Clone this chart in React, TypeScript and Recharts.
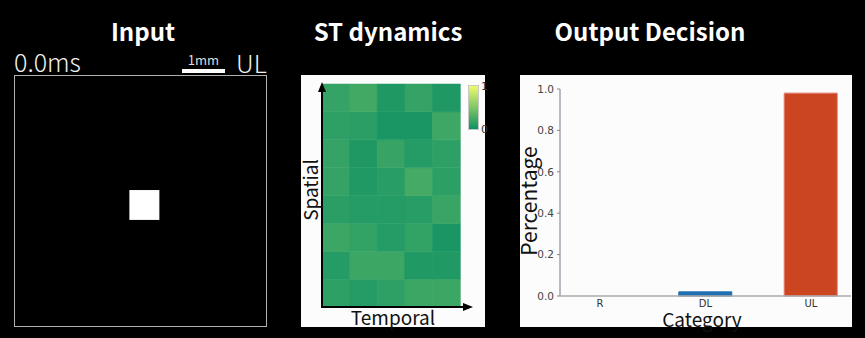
import React from 'react';
import { Bar, BarChart, Cell, XAxis, YAxis } from 'recharts';

const CATEGORIES = ['R', 'DL', 'UL'];
const PERCENTAGES = [0, 0.02, 0.98];
const BAR_COLORS = ['#2ca02c', '#1f6fb2', '#ca4520'];
const Y_TICKS = [0, 0.2, 0.4, 0.6, 0.8, 1.0];

// spatial rows, top to bottom; temporal columns left to right
const ST_ROWS = [
  [0.17, 0.23, 0.07, 0.17, 0.07],
  [0.14, 0.12, 0.05, 0.05, 0.21],
  [0.17, 0.07, 0.18, 0.1, 0.14],
  [0.17, 0.08, 0.11, 0.24, 0.13],
  [0.12, 0.1, 0.1, 0.11, 0.19],
  [0.2, 0.16, 0.1, 0.16, 0.05],
  [0.1, 0.2, 0.2, 0.08, 0.08],
  [0.14, 0.1, 0.14, 0.2, 0.2],
];
const TEMPORAL_STEPS = ['t1', 't2', 't3', 't4', 't5'];

// input frame: one lit pixel (normalised coords, y from bottom)
const INPUT_PIXEL = [{ x: 0.5175, below: 0.422, lit: 0.12 }];

const TITLE_FONT = '"Noto Sans CJK SC", "Noto Sans", sans-serif';
const TICK_FONT = '"DejaVu Sans", sans-serif';

// green -> yellow colormap
const CMAP_LO = [15, 145, 100];
const CMAP_HI = [238, 250, 105];
function cmap(v: number) {
  const c = CMAP_LO.map((lo, i) => Math.round(lo + (CMAP_HI[i] - lo) * v));
  return `rgb(${c[0]}, ${c[1]}, ${c[2]})`;
}

const nRows = ST_ROWS.length;
// stack index k = 0 is the bottom row
const heatData = TEMPORAL_STEPS.map((t) => {
  const row: Record<string, number | string> = { t };
  for (let k = 0; k < nRows; k++) row[`s${k}`] = 1;
  return row;
});

const barData = CATEGORIES.map((name, i) => ({
  x: i,
  name,
  value: PERCENTAGES[i],
}));

function Title({ text, cx }: { text: string; cx: number }) {
  return (
    <div
      style={{
        position: 'absolute',
        left: cx - 150,
        width: 300,
        top: 14,
        textAlign: 'center',
        fontFamily: TITLE_FONT,
        fontWeight: 700,
        fontSize: 24,
        lineHeight: '34px',
        color: '#fff',
      }}
    >
      {text}
    </div>
  );
}

/* ───────────── Input ───────────── */
function InputPanel() {
  return (
    <>
      <div
        style={{
          position: 'absolute',
          left: 14,
          top: 45,
          fontFamily: TITLE_FONT,
          fontSize: 25,
          lineHeight: '32px',
          color: '#f2f2f2',
          fontWeight: 300,
        }}
      >
        0.0ms
      </div>
      <div
        style={{
          position: 'absolute',
          left: 182,
          top: 52,
          width: 43,
          textAlign: 'center',
          fontFamily: TITLE_FONT,
          fontSize: 13,
          lineHeight: '16px',
          color: '#ddd',
        }}
      >
        1mm
      </div>
      <div
        style={{
          position: 'absolute',
          left: 182,
          top: 69,
          width: 43,
          height: 4,
          background: '#fff',
        }}
      />
      <div
        style={{
          position: 'absolute',
          left: 236,
          top: 46,
          fontFamily: TITLE_FONT,
          fontSize: 25,
          lineHeight: '32px',
          color: '#f2f2f2',
          fontWeight: 300,
        }}
      >
        UL
      </div>
      <div
        style={{
          position: 'absolute',
          left: 14,
          top: 75,
          width: 253,
          height: 252,
          border: '1.5px solid #b0b0b0',
          boxSizing: 'border-box',
          background: '#000',
        }}
      >
        <BarChart
          width={250}
          height={249}
          data={INPUT_PIXEL}
          margin={{ top: 0, right: 0, bottom: 0, left: 0 }}
        >
          <XAxis type="number" dataKey="x" domain={[0, 1]} hide />
          <YAxis type="number" domain={[0, 1]} hide />
          <Bar
            dataKey="below"
            stackId="px"
            fill="transparent"
            barSize={30}
            isAnimationActive={false}
          />
          <Bar
            dataKey="lit"
            stackId="px"
            fill="#ffffff"
            barSize={30}
            isAnimationActive={false}
          />
        </BarChart>
      </div>
    </>
  );
}

/* ───────────── ST dynamics ───────────── */
function StPanel() {
  return (
    <div
      style={{
        position: 'absolute',
        left: 301,
        top: 75,
        width: 184,
        height: 252,
        background: '#fcfcfc',
      }}
    >
      <BarChart
        width={184}
        height={252}
        data={heatData}
        barCategoryGap={0}
        barGap={0}
        margin={{ top: 9, right: 25, bottom: 20, left: 21 }}
      >
        <XAxis dataKey="t" hide />
        <YAxis type="number" domain={[0, nRows]} hide />
        {ST_ROWS.map((_, k) => (
          <Bar
            key={k}
            dataKey={`s${k}`}
            stackId="st"
            isAnimationActive={false}
          >
            {TEMPORAL_STEPS.map((t, c) => (
              <Cell
                key={t}
                fill={cmap(ST_ROWS[nRows - 1 - k][c])}
                stroke={cmap(ST_ROWS[nRows - 1 - k][c])}
                strokeWidth={0.5}
              />
            ))}
          </Bar>
        ))}
      </BarChart>
      <svg
        width={184}
        height={252}
        style={{ position: 'absolute', left: 0, top: 0, pointerEvents: 'none' }}
      >
        <line x1={21} y1={233} x2={21} y2={14} stroke="#000" strokeWidth={2} />
        <polygon points="21,7 17,17 25,17" fill="#000" />
        <line x1={20} y1={232} x2={165} y2={232} stroke="#000" strokeWidth={2} />
        <polygon points="172,232 162,228 162,236" fill="#000" />
      </svg>
      <div
        style={{
          position: 'absolute',
          left: 167,
          top: 10,
          width: 11,
          height: 45,
          boxSizing: 'border-box',
          border: '1px solid #c8c8c8',
          background: `linear-gradient(to bottom, ${cmap(1)}, ${cmap(0)})`,
        }}
      />
      <div
        style={{
          position: 'absolute',
          left: 180,
          top: 5,
          fontFamily: TICK_FONT,
          fontSize: 11,
          lineHeight: '13px',
          color: '#333',
        }}
      >
        1
      </div>
      <div
        style={{
          position: 'absolute',
          left: 180,
          top: 48,
          fontFamily: TICK_FONT,
          fontSize: 11,
          lineHeight: '13px',
          color: '#333',
        }}
      >
        0
      </div>
      <div
        style={{
          position: 'absolute',
          left: 9 - 50,
          top: 115 - 12,
          width: 100,
          height: 24,
          textAlign: 'center',
          transform: 'rotate(-90deg)',
          fontFamily: TITLE_FONT,
          fontSize: 19,
          lineHeight: '24px',
          color: '#111',
        }}
      >
        Spatial
      </div>
      <div
        style={{
          position: 'absolute',
          left: 92 - 60,
          width: 120,
          top: 230,
          textAlign: 'center',
          fontFamily: TITLE_FONT,
          fontSize: 19,
          lineHeight: '24px',
          color: '#111',
        }}
      >
        Temporal
      </div>
    </div>
  );
}

/* ───────────── Output Decision ───────────── */
function OutputPanel() {
  return (
    <div
      style={{
        position: 'absolute',
        left: 520,
        top: 75,
        width: 332,
        height: 252,
        background: '#fcfcfc',
      }}
    >
      <BarChart
        width={332}
        height={252}
        data={barData}
        margin={{ top: 14, right: 1, bottom: 0, left: 0 }}
      >
        <XAxis
          type="number"
          dataKey="x"
          domain={[-0.38, 2.38]}
          ticks={[0, 1, 2]}
          tickFormatter={(v) => CATEGORIES[v]}
          height={31}
          axisLine={{ stroke: '#ababab', strokeWidth: 1.5 }}
          tickLine={false}
          tick={{ fontSize: 10, fill: '#333', fontFamily: TICK_FONT, dy: -2 }}
          tickMargin={0}
        />
        <YAxis
          type="number"
          domain={[0, 1]}
          ticks={Y_TICKS}
          tickFormatter={(v) => v.toFixed(1)}
          width={40}
          axisLine={{ stroke: '#a4a4b0', strokeWidth: 1.5 }}
          tickLine={{ stroke: '#888' }}
          tickSize={3}
          tickMargin={3}
          tick={{ fontSize: 10.5, fill: '#444', fontFamily: TICK_FONT }}
        />
        <Bar dataKey="value" barSize={53} isAnimationActive={false} strokeWidth={1}>
          {barData.map((d, i) => (
            <Cell
              key={d.name}
              fill={BAR_COLORS[i]}
              stroke={i === 2 ? '#e5796a' : BAR_COLORS[i]}
            />
          ))}
        </Bar>
      </BarChart>
      <div
        style={{
          position: 'absolute',
          left: 8 - 60,
          top: 126 - 14,
          width: 120,
          height: 28,
          textAlign: 'center',
          transform: 'rotate(-90deg)',
          fontFamily: TITLE_FONT,
          fontSize: 21,
          lineHeight: '28px',
          color: '#111',
        }}
      >
        Percentage
      </div>
      <div
        style={{
          position: 'absolute',
          left: 182 - 70,
          width: 140,
          top: 235,
          textAlign: 'center',
          fontFamily: TITLE_FONT,
          fontSize: 19,
          lineHeight: '17px',
          color: '#111',
        }}
      >
        Category
      </div>
    </div>
  );
}

export default function App() {
  return (
    <div
      style={{
        position: 'absolute',
        left: 0,
        top: 0,
        width: 865,
        height: 338,
        background: '#000',
        overflow: 'hidden',
      }}
    >
      <Title text="Input" cx={143} />
      <Title text="ST dynamics" cx={388} />
      <Title text="Output Decision" cx={650} />
      <InputPanel />
      <StPanel />
      <OutputPanel />
    </div>
  );
}
